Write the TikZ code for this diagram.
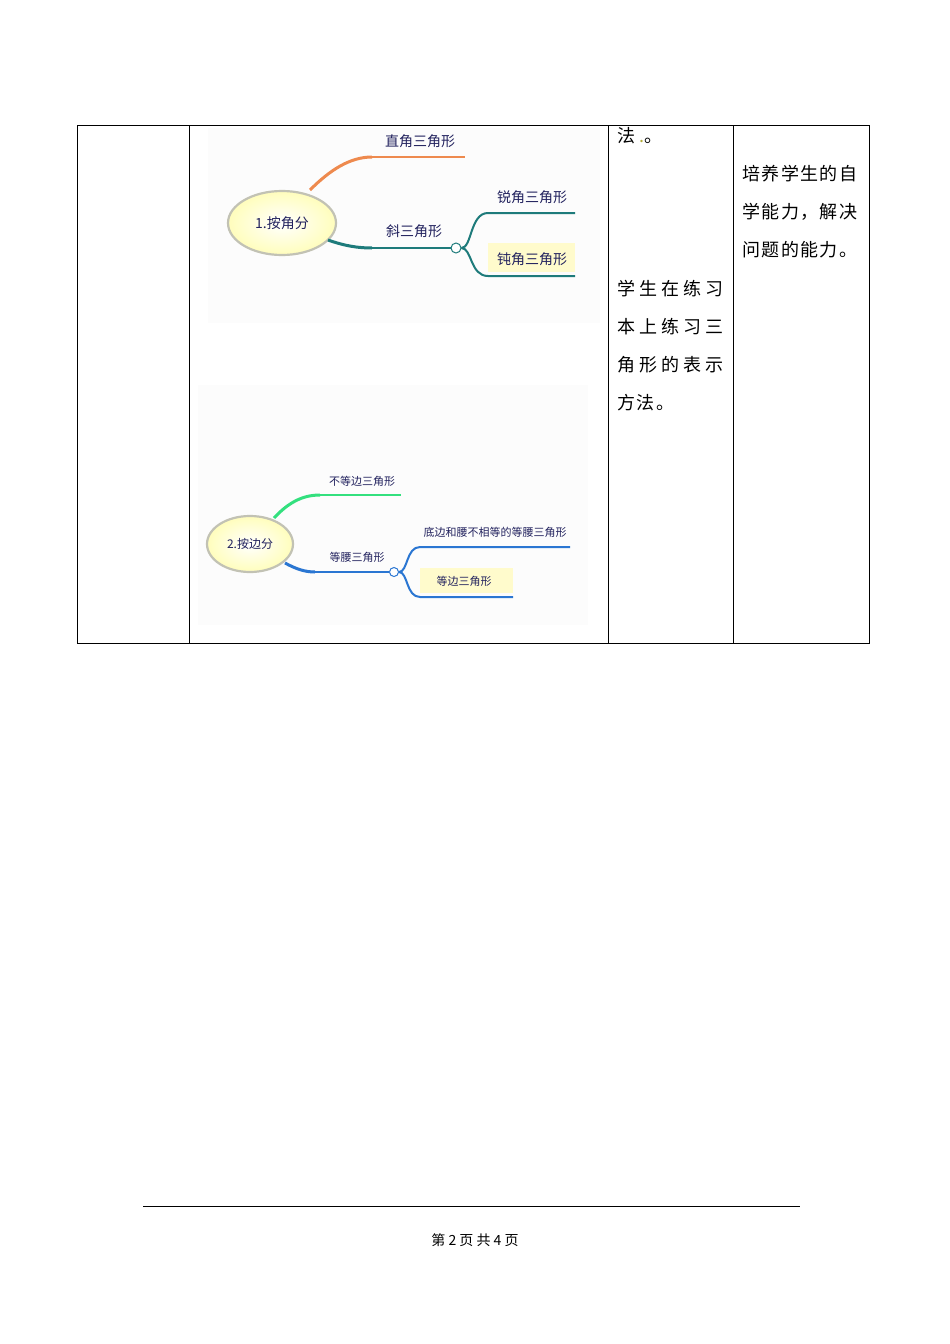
\documentclass[tikz,border=0pt]{standalone}
\usepackage{fontspec}
\usepackage{color}
\usetikzlibrary{shapes.geometric}
\newfontfamily\cjk{Noto Sans CJK SC}
\newfontfamily\cjkwide[LetterSpace=22]{Noto Sans CJK SC}
\newfontfamily\cjkmid[LetterSpace=8]{Noto Sans CJK SC}

\definecolor{mapnavy}{HTML}{22225E}
\definecolor{maporange}{HTML}{EE8A4E}
\definecolor{mapteal}{HTML}{1E7B7B}
\definecolor{mapgreen}{HTML}{33E07E}
\definecolor{mapblue}{HTML}{2A76D2}
\definecolor{maphigh}{HTML}{FFFBCC}
\definecolor{rimgray}{HTML}{C2C2B4}
\definecolor{picback}{HTML}{FCFCFC}

\tikzset{
  maplabel/.style={text=mapnavy, font=\cjk\fontsize{14}{14}\selectfont, inner sep=0pt},
  smalllabel/.style={text=mapnavy, font=\cjk\fontsize{11}{11}\selectfont, inner sep=0pt},
  rootnode/.style={ellipse, draw=rimgray, line width=2.2pt, inner color=white,
    outer color=maphigh!70!yellow!60, text=mapnavy},
  knot/.style={circle, draw, fill=white, line width=1pt, inner sep=0pt, minimum size=10pt},
  bodytext/.style={anchor=west, inner sep=0pt, font=\cjkmid\fontsize{18}{18}\selectfont},
  widetext/.style={anchor=west, inner sep=0pt, font=\cjkwide\fontsize{18}{18}\selectfont},
}

\begin{document}
\begin{tikzpicture}[%
      x=1pt, y=-1pt,
      ]
      \useasboundingbox (0,0) rectangle (950,1344);
      \fill [color=white] (0,0) rectangle (950,1344);

      % table
      \draw [color=black, line width=0.8pt] (77,125) rectangle (869,643);
      \foreach \x in {189,608,733}
        \draw [color=black, line width=0.8pt] (\x,125) -- (\x,643);

      % picture backgrounds
      \fill [color=picback] (208,128) rectangle (600,323);
      \fill [color=picback] (198,385) rectangle (588,625);

      % first map
      \node [rootnode, minimum width=108pt, minimum height=64pt,
        font=\cjk\fontsize{14}{14}\selectfont] (jiao) at (282,223) {1.按角分};
      \coordinate (zhi-a) at (310,190);
      \coordinate (zhi-b) at (372,157);
      \coordinate (zhi-c) at (465,157);
      \draw [color=maporange, line width=3pt] (zhi-a) .. controls (330,170) and (350,157) .. (zhi-b);
      \draw [color=maporange, line width=2pt] (zhi-b) -- (zhi-c);
      \node [maplabel] (zhi) at (420,141) {直角三角形};

      \coordinate (xie-a) at (328,240);
      \coordinate (xie-b) at (372,248);
      \node [knot, draw=mapteal] (xiek) at (456,248) {};
      \draw [color=mapteal, line width=3pt] (xie-a) .. controls (345,246) and (358,248) .. (xie-b);
      \draw [color=mapteal, line width=2pt] (xie-b) -- (xiek.west);
      \node [maplabel] (xie) at (414,231) {斜三角形};

      \fill [color=maphigh] (488,243) rectangle (575,272);
      \coordinate (rui-b) at (488,213);
      \coordinate (rui-c) at (575,213);
      \coordinate (dun-b) at (488,276);
      \coordinate (dun-c) at (575,276);
      \draw [color=mapteal, line width=2pt] (xiek.east) .. controls (472,248) and (470,213) .. (rui-b) -- (rui-c);
      \draw [color=mapteal, line width=2pt] (xiek.east) .. controls (472,248) and (470,276) .. (dun-b) -- (dun-c);
      \node [maplabel] (rui) at (532,197) {锐角三角形};
      \node [maplabel] (dun) at (532,259) {钝角三角形};

      % second map
      \node [rootnode, minimum width=86pt, minimum height=56pt,
        font=\cjk\fontsize{12}{12}\selectfont] (bian) at (250,544) {2.按边分};
      \coordinate (buden-a) at (274,518);
      \coordinate (buden-b) at (320,495);
      \coordinate (buden-c) at (401,495);
      \draw [color=mapgreen, line width=3pt] (buden-a) .. controls (288,503) and (302,495) .. (buden-b);
      \draw [color=mapgreen, line width=2pt] (buden-b) -- (buden-c);
      \node [smalllabel] (buden) at (362,481) {不等边三角形};

      \coordinate (yao-a) at (285,563);
      \coordinate (yao-b) at (315,572);
      \node [knot, draw=mapblue, minimum size=9pt] (yaok) at (394,572) {};
      \draw [color=mapblue, line width=3pt] (yao-a) .. controls (296,569) and (305,572) .. (yao-b);
      \draw [color=mapblue, line width=2pt] (yao-b) -- (yaok.west);
      \node [smalllabel] (yao) at (357,557) {等腰三角形};

      \fill [color=maphigh] (420,568) rectangle (513,593);
      \coordinate (dibian-b) at (420,547);
      \coordinate (dibian-c) at (570,547);
      \coordinate (dengbian-b) at (420,597);
      \coordinate (dengbian-c) at (513,597);
      \draw [color=mapblue, line width=2pt] (yaok.east) .. controls (408,572) and (406,547) .. (dibian-b) -- (dibian-c);
      \draw [color=mapblue, line width=2pt] (yaok.east) .. controls (408,572) and (406,597) .. (dengbian-b) -- (dengbian-c);
      \node [smalllabel] (dibian) at (495,532) {底边和腰不相等的等腰三角形};
      \node [smalllabel] (dengbian) at (464,581) {等边三角形};

      % third column
      \node [bodytext] (fa) at (617,136) {法\hspace{4pt}\textcolor{olive!70}{.}。};
      \node [widetext] (lian1) at (617,289) {学生在练习};
      \node [widetext] (lian2) at (617,327) {本上练习三};
      \node [widetext] (lian3) at (617,365) {角形的表示};
      \node [bodytext] (lian4) at (617,403) {方法。};

      % fourth column
      \node [bodytext] (pei1) at (742,174) {培养学生的自};
      \node [bodytext] (pei2) at (742,212) {学能力，解决};
      \node [bodytext] (pei3) at (742,250) {问题的能力。};

      % footer
      \draw [color=black, line width=0.8pt] (143,1206) -- (800,1206);
      \node [font=\cjk\fontsize{14}{14}\selectfont] (ye) at (475,1240) {第 2 页 共 4 页};
\end{tikzpicture}
\end{document}
